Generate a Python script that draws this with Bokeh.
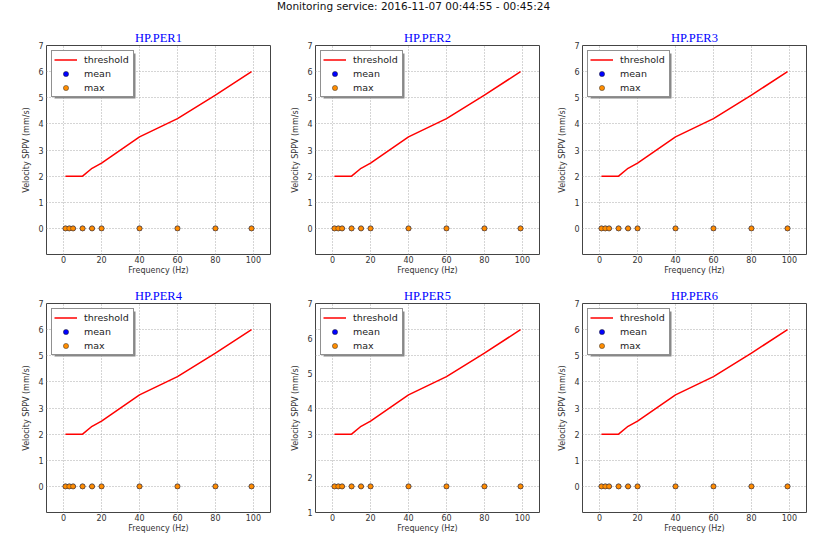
from bokeh.plotting import figure
from bokeh.models import FixedTicker, Legend, LegendItem, BoxAnnotation, Label
from bokeh.layouts import column, row
from bokeh.embed import file_html
from bokeh.resources import INLINE

# ---------------- data ----------------
main_title = "Monitoring service: 2016-11-07 00:44:55 - 00:45:24"
stations = ["HP.PER1", "HP.PER2", "HP.PER3", "HP.PER4", "HP.PER5", "HP.PER6"]

threshold_freq = [1, 10, 15, 20, 40, 60, 80, 99]
threshold_vel = [2.0, 2.0, 2.3, 2.5, 3.5, 4.2, 5.1, 6.0]

point_freq = [1, 3, 5, 10, 15, 20, 40, 60, 80, 99]
mean_vel = [0, 0, 0, 0, 0, 0, 0, 0, 0, 0]
max_vel = [0, 0, 0, 0, 0, 0, 0, 0, 0, 0]

x_ticks = [0, 20, 40, 60, 80, 100]
y_ticks = [0, 1, 2, 3, 4, 5, 6, 7]
# HP.PER5 shows a different (irregularly placed) set of tick labels
per5_tick_pos = [-1, 0.33, 2, 3, 4.33, 5.67, 7]
per5_tick_labels = ["1", "2", "3", "4", "5", "6", "7"]
per5_grid = [-1, 0, 1, 2, 3, 4, 5, 6, 7]

X_RANGE = (-9, 109)
Y_RANGE = (-1, 7)

FONT = "DejaVu Sans"


def make_fig(name, width, height, left, right, top, bottom, special=False):
    p = figure(width=width, height=height, x_range=X_RANGE, y_range=Y_RANGE,
               toolbar_location=None, output_backend="svg",
               min_border_left=left, min_border_right=right,
               min_border_top=top, min_border_bottom=bottom)
    p.title.text = name
    p.title.align = "center"
    p.title.text_font = "Liberation Serif"
    p.title.text_font_size = "12.5px"
    p.title.text_font_style = "normal"
    p.title.text_color = "#0000ff"
    p.title.standoff = 1
    p.title.offset = 0

    p.outline_line_color = "#444444"
    p.outline_line_width = 1
    p.background_fill_color = "white"
    p.border_fill_color = "white"

    p.xaxis.ticker = FixedTicker(ticks=x_ticks)
    if special:
        p.yaxis.ticker = FixedTicker(ticks=per5_tick_pos)
        p.yaxis.major_label_overrides = {pos: lab for pos, lab in zip(per5_tick_pos, per5_tick_labels)}
        p.ygrid.ticker = FixedTicker(ticks=per5_grid)
    else:
        p.yaxis.ticker = FixedTicker(ticks=y_ticks)

    for ax in (p.xaxis[0], p.yaxis[0]):
        ax.axis_line_color = None
        ax.major_tick_in = 0
        ax.major_tick_out = 0
        ax.minor_tick_line_color = None
        ax.major_label_text_font = FONT
        ax.major_label_text_font_size = "8px"
        ax.major_label_text_color = "#333333"
        ax.axis_label_text_font = FONT
        ax.axis_label_text_font_size = "8px"
        ax.axis_label_text_font_style = "normal"
        ax.axis_label_text_color = "#333333"
    p.xaxis.axis_label = "Frequency (Hz)"
    p.yaxis.axis_label = "Velocity SPPV (mm/s)"
    p.xaxis.major_label_standoff = 1
    p.xaxis.axis_label_standoff = 0
    p.yaxis.major_label_standoff = 3
    p.yaxis.axis_label_standoff = 4

    p.grid.grid_line_color = "#aaaaaa"
    p.grid.grid_line_dash = "1 2"
    p.grid.grid_line_width = 1

    r_thr = p.line(threshold_freq, threshold_vel, line_color="red", line_width=1.5)
    r_mean = p.scatter(point_freq, mean_vel, size=5, fill_color="#0000ff",
                       line_color="#222222", line_width=0.5)
    r_max = p.scatter(point_freq, max_vel, size=5, fill_color="#ff8c00",
                      line_color="#333333", line_width=0.5)

    # legend drop shadow (pixel offsets converted to data units)
    fw, fh = 224.0, 209.0
    sx = (X_RANGE[1] - X_RANGE[0]) / fw
    sy = (Y_RANGE[1] - Y_RANGE[0]) / fh
    shadow = BoxAnnotation(left=X_RANGE[0] + 8 * sx, right=X_RANGE[0] + 89 * sx,
                           top=Y_RANGE[1] - 8 * sy, bottom=Y_RANGE[1] - 53 * sy,
                           fill_color="#888888", fill_alpha=1.0, line_color=None)
    p.add_layout(shadow)

    legend = Legend(items=[LegendItem(label="threshold", renderers=[r_thr]),
                           LegendItem(label="mean", renderers=[r_mean]),
                           LegendItem(label="max", renderers=[r_max])],
                    location="top_left", margin=5, padding=2, spacing=1,
                    glyph_width=23, glyph_height=13, label_height=13,
                    label_width=47, label_standoff=7,
                    label_text_font=FONT, label_text_font_size="9.5px",
                    label_text_color="#222222",
                    border_line_color="#222222", border_line_width=1,
                    background_fill_color="white", background_fill_alpha=1.0)
    p.add_layout(legend, "center")
    return p


# title strip (no title panel, frame fills the whole strip)
tp = figure(width=839, height=20, x_range=(0, 839), y_range=(0, 20),
            toolbar_location=None, output_backend="svg", min_border=0)
tp.title = None
tp.axis.visible = False
tp.grid.visible = False
tp.outline_line_color = None
tp.add_layout(Label(x=413, y=14.7, text=main_title, text_align="center",
                    text_baseline="alphabetic", text_font=FONT,
                    text_font_size="10.5px", text_color="#111111"))

cols = [(278, 46, 8), (270, 37, 9), (291, 34, 33)]
rows_spec = [(263, 25, 29), (272, 20, 43)]

figs = []
for ri, (h, top, bottom) in enumerate(rows_spec):
    rfigs = []
    for ci, (w, left, right) in enumerate(cols):
        idx = ri * 3 + ci
        rfigs.append(make_fig(stations[idx], w, h, left, right, top, bottom,
                              special=(idx == 4)))
    figs.append(row(*rfigs))

layout = column(tp, *figs)
open("out.html", "w").write(file_html(layout, INLINE))
